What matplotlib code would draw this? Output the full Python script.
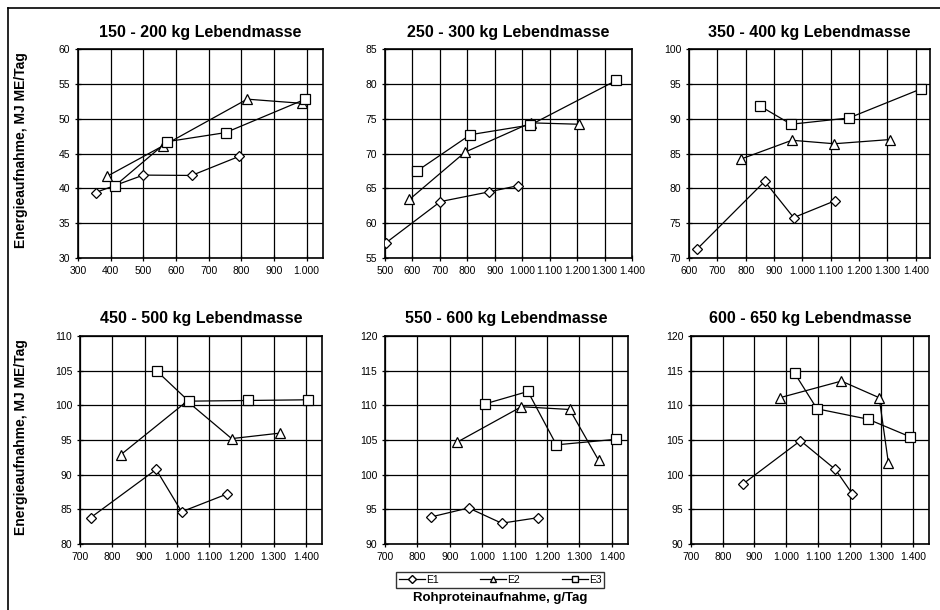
import matplotlib
matplotlib.use("Agg")
import matplotlib.pyplot as plt
from matplotlib.lines import Line2D
from matplotlib.ticker import FuncFormatter, MultipleLocator

plt.rcParams['font.family'] = ['Liberation Sans', 'DejaVu Sans']

titles = ["150 - 200 kg Lebendmasse", "250 - 300 kg Lebendmasse", "350 - 400 kg Lebendmasse",
          "450 - 500 kg Lebendmasse", "550 - 600 kg Lebendmasse", "600 - 650 kg Lebendmasse"]
series_names = ["E1", "E2", "E3"]

# Rohproteinaufnahme (g/Tag) and Energieaufnahme (MJ ME/Tag) per panel
e1_x = [[354, 500, 648, 794], [504, 702, 880, 986], [629, 867, 969, 1114],
        [733, 936, 1015, 1155], [842, 958, 1060, 1173], [865, 1045, 1155, 1208]]
e1_y = [[39.4, 41.9, 41.85, 44.6], [57.2, 63.1, 64.5, 65.4], [71.3, 81.0, 75.8, 78.2],
        [83.8, 90.75, 84.65, 87.2], [93.9, 95.2, 93.0, 93.8], [98.7, 104.9, 100.75, 97.25]]
e2_x = [[388, 560, 818, 986], [589, 792, 1031, 1206], [783, 963, 1112, 1308],
        [827, 1032, 1170, 1321], [923, 1121, 1270, 1359], [980, 1174, 1293, 1322]]
e2_y = [[41.7, 46.1, 52.8, 52.2], [63.4, 70.2, 74.4, 74.2], [84.2, 86.9, 86.4, 87.0],
        [92.9, 100.6, 95.2, 96.0], [104.7, 109.8, 109.4, 102.1], [111.1, 113.5, 111.1, 101.7]]
e3_x = [[414, 573, 752, 996], [617, 811, 1030, 1343], [851, 960, 1164, 1420],
        [939, 1037, 1221, 1408], [1008, 1141, 1229, 1412], [1027, 1097, 1258, 1391]]
e3_y = [[40.4, 46.7, 48.0, 52.8], [67.5, 72.7, 74.1, 80.5], [91.8, 89.2, 90.1, 94.3],
        [104.9, 100.6, 100.7, 100.8], [110.2, 112.0, 104.3, 105.1], [114.6, 109.5, 108.0, 105.45]]

x_limits = [(300, 1050), (500, 1400), (600, 1450), (700, 1450), (700, 1450), (700, 1450)]
x_ticks_max = [1000, 1400, 1400, 1400, 1400, 1400]
y_limits = [(30, 60), (55, 85), (70, 100), (80, 110), (90, 120), (90, 120)]

markers = ["D", "^", "s"]
msizes = [5.3, 7, 6.5]

# axes boxes in pixels (left, right, top, bottom) on a 940x610 canvas
boxes = [(78, 323, 49, 258), (385, 632, 49, 258), (689, 930, 49, 258),
         (80, 322, 336, 544), (385, 628, 336, 544), (691, 929, 336, 544)]

fig = plt.figure(figsize=(9.4, 6.1), dpi=100)

def thousands(v, pos):
    return f"{int(v):,}".replace(",", ".")

for i in range(6):
    l, r, t, b = boxes[i]
    ax = fig.add_axes([l / 940, 1 - b / 610, (r - l) / 940, (b - t) / 610])
    for xs, ys, mk, ms in zip([e1_x[i], e2_x[i], e3_x[i]], [e1_y[i], e2_y[i], e3_y[i]], markers, msizes):
        ax.plot(xs, ys, color="black", lw=0.9, marker=mk, ms=ms, mfc="white",
                mec="black", mew=0.9, zorder=3)
    ax.set_xlim(*x_limits[i])
    ax.set_ylim(*y_limits[i])
    ax.set_xticks(range(x_limits[i][0], x_ticks_max[i] + 1, 100))
    ax.yaxis.set_major_locator(MultipleLocator(5))
    ax.xaxis.set_major_formatter(FuncFormatter(thousands))
    ax.grid(True, color="black", lw=0.9)
    ax.tick_params(direction="inout", length=5, width=0.9, labelsize=7.5, pad=3)
    for s in ax.spines.values():
        s.set_linewidth(1.2)
    ax.set_title(titles[i], fontsize=11.5, fontweight="bold", pad=9)

fig.text(21 / 940, 1 - 150 / 610, "Energieaufnahme, MJ ME/Tag", rotation=90,
         ha="center", va="center", fontsize=10, fontweight="bold")
fig.text(21 / 940, 1 - 437 / 610, "Energieaufnahme, MJ ME/Tag", rotation=90,
         ha="center", va="center", fontsize=10, fontweight="bold")
fig.text(500 / 940, 1 - 598 / 610, "Rohproteinaufnahme, g/Tag",
         ha="center", va="center", fontsize=9.5, fontweight="bold")

handles = [Line2D([], [], color="black", lw=0.9, marker=mk, ms=ms * 0.7, mfc="white", mec="black")
           for mk, ms in zip(markers, msizes)]
leg = fig.legend(handles, series_names, loc="center", bbox_to_anchor=(500 / 940, 1 - 580 / 610),
                 ncol=3, fontsize=7.5, frameon=True, fancybox=False, edgecolor="black",
                 handlelength=2.5, handletextpad=0.1, columnspacing=4.0, borderpad=0.25)
leg.get_frame().set_linewidth(1.0)

# page border (top and left edge)
fig.add_artist(Line2D([8 / 940, 1], [1 - 8 / 610, 1 - 8 / 610], color="black", lw=1.2))
fig.add_artist(Line2D([8 / 940, 8 / 940], [0, 1 - 8 / 610], color="black", lw=1.2))

fig.savefig("out.png", dpi=100)
